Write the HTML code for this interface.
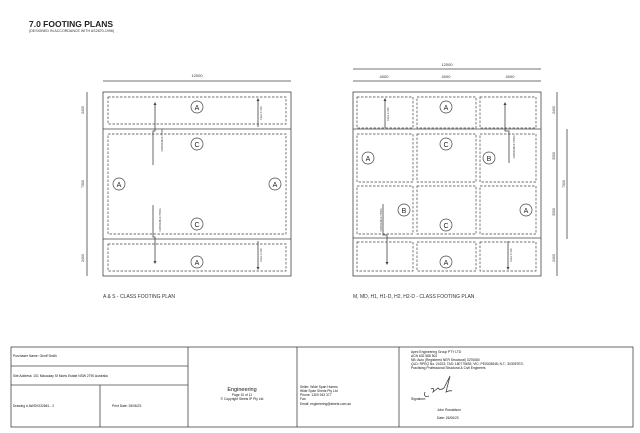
<!DOCTYPE html>
<html><head><meta charset="utf-8"><style>
body{margin:0;background:#fff;}
svg{display:block;font-family:"Liberation Sans",sans-serif;}
</style></head><body>
<svg width="640" height="433" viewBox="0 0 640 433" xmlns="http://www.w3.org/2000/svg">
<rect width="640" height="433" fill="#fff"/>
<text x="29" y="27" font-size="8.5" font-weight="bold" fill="#222">7.0 FOOTING PLANS</text>
<text x="29" y="32" font-size="3.6" fill="#333">(DESIGNED IN ACCORDANCE WITH AS2870-1996)</text>

<g stroke="#444" fill="none" stroke-width="0.8">
<!-- LEFT PLAN -->
<line x1="103" y1="81" x2="291" y2="81"/>
<line x1="87" y1="92" x2="87" y2="276"/>
<rect x="103" y="92" width="188" height="184"/>
<line x1="103" y1="129" x2="291" y2="129"/>
<line x1="103" y1="239" x2="291" y2="239"/>
<g stroke-dasharray="2.5,1.5" stroke-width="0.7">
<rect x="108" y="97" width="178" height="27"/>
<rect x="108" y="134" width="178" height="100"/>
<rect x="108" y="244" width="178" height="27"/>
</g>
<polyline points="155,104 155,131 153,131 153,165"/>
<polyline points="153,205 153,237 155,237 155,262"/>
<line x1="258" y1="100" x2="258" y2="127"/>
<line x1="258" y1="241" x2="258" y2="268"/>
<g stroke-width="0.7">
<circle cx="197" cy="107" r="6"/><circle cx="197" cy="144" r="6"/>
<circle cx="197" cy="224" r="6"/><circle cx="197" cy="262" r="6"/>
<circle cx="119" cy="184" r="6"/><circle cx="275" cy="184" r="6"/>
</g>

<!-- RIGHT PLAN -->
<line x1="353" y1="69" x2="541" y2="69"/>
<line x1="353" y1="81" x2="541" y2="81"/>
<line x1="557" y1="92" x2="557" y2="276"/>
<line x1="567" y1="129" x2="567" y2="239"/>
<rect x="353" y="92" width="188" height="184"/>
<line x1="353" y1="129" x2="541" y2="129"/>
<line x1="353" y1="238" x2="541" y2="238"/>
<g stroke-dasharray="2.5,1.5" stroke-width="0.7">
<rect x="357" y="97" width="56" height="31"/><rect x="417" y="97" width="59" height="31"/><rect x="480" y="97" width="56" height="31"/>
<rect x="357" y="134" width="56" height="48"/><rect x="417" y="134" width="59" height="48"/><rect x="480" y="134" width="56" height="48"/>
<rect x="357" y="186" width="56" height="48"/><rect x="417" y="186" width="59" height="48"/><rect x="480" y="186" width="56" height="48"/>
<rect x="357" y="242" width="56" height="29"/><rect x="417" y="242" width="59" height="29"/><rect x="480" y="242" width="56" height="29"/>
</g>
<line x1="385" y1="100" x2="385" y2="128"/>
<polyline points="505,104 505,131 509,131 509,163"/>
<polyline points="383,204 383,235 387,235 387,263"/>
<line x1="508" y1="241" x2="508" y2="268"/>
<g stroke-width="0.7">
<circle cx="446" cy="107" r="6"/><circle cx="446" cy="144" r="6"/>
<circle cx="368" cy="158" r="6"/><circle cx="489" cy="158" r="6"/>
<circle cx="404" cy="210" r="6"/><circle cx="526" cy="210" r="6"/>
<circle cx="446" cy="225" r="6"/><circle cx="446" cy="262" r="6"/>
</g>

<!-- TITLE BLOCK -->
<rect x="11" y="347" width="622" height="80"/>
<line x1="11" y1="366" x2="188" y2="366"/>
<line x1="11" y1="385" x2="188" y2="385"/>
<line x1="100" y1="385" x2="100" y2="427"/>
<line x1="188" y1="347" x2="188" y2="427"/>
<line x1="297" y1="347" x2="297" y2="427"/>
<line x1="399" y1="347" x2="399" y2="427"/>
<path d="M425 392 q-2 6 4 4 M431 389 q4 -2 2 3 l5 -4 q2 3 6 0 l6 -12 l-4 16 q4 -2 6 -1" stroke-width="0.8"/>
</g>

<!-- arrowheads -->
<g fill="#444">
<path d="M155,102 l-1.5,3 h3z"/><path d="M155,264 l-1.5,-3 h3z"/>
<path d="M258,98 l-1.5,3 h3z"/><path d="M258,270 l-1.5,-3 h3z"/>
<path d="M385,98 l-1.5,3 h3z"/><path d="M505,102 l-1.5,3 h3z"/>
<path d="M387,265 l-1.5,-3 h3z"/><path d="M508,270 l-1.5,-3 h3z"/>
</g>
<g font-size="2.6" fill="#333" text-anchor="middle">
<text transform="translate(161,140) rotate(90)">50mm STEPDOWN</text>
<text transform="translate(159,220) rotate(90)">50mm STEPDOWN</text>
<text transform="translate(513,147) rotate(90)">50mm STEPDOWN</text>
<text transform="translate(380,220) rotate(90)">50mm STEPDOWN</text>
<text transform="translate(262,113) rotate(-90)">FALL 1:100</text>
<text transform="translate(262,255) rotate(-90)">FALL 1:100</text>
<text transform="translate(389,114) rotate(-90)">FALL 1:100</text>
<text transform="translate(512,255) rotate(-90)">FALL 1:100</text>
</g>

<g font-size="4" fill="#333" text-anchor="middle">
<text x="197" y="77">12000</text>
<text x="447" y="66">12000</text>
<text x="384" y="78">4000</text><text x="446" y="78">4000</text><text x="510" y="78">4000</text>
</g>
<g font-size="3.5" fill="#333" text-anchor="middle">
<text transform="translate(84,110) rotate(-90)">2400</text>
<text transform="translate(84,184) rotate(-90)">7300</text>
<text transform="translate(84,258) rotate(-90)">2400</text>
<text transform="translate(555,110) rotate(-90)">2400</text>
<text transform="translate(555,156) rotate(-90)">3300</text>
<text transform="translate(555,212) rotate(-90)">3300</text>
<text transform="translate(555,258) rotate(-90)">2400</text>
<text transform="translate(565,184) rotate(-90)">7300</text>
</g>
<g font-size="7" fill="#222" text-anchor="middle">
<text x="197" y="110">A</text><text x="197" y="147">C</text><text x="197" y="227">C</text><text x="197" y="265">A</text>
<text x="119" y="187">A</text><text x="275" y="187">A</text>
<text x="446" y="110">A</text><text x="446" y="147">C</text><text x="368" y="161">A</text><text x="489" y="161">B</text>
<text x="404" y="213">B</text><text x="526" y="213">A</text><text x="446" y="228">C</text><text x="446" y="265">A</text>
</g>
<text x="103" y="298" font-size="5" fill="#333">A &amp; S - CLASS FOOTING PLAN</text>
<text x="353" y="298" font-size="5" fill="#333">M, MD, H1, H1-D, H2, H2-D - CLASS FOOTING PLAN</text>

<g font-size="3.3" fill="#111">
<text x="13" y="357">Purchaser Name: Geoff Smith</text>
<text x="13" y="377">Site Address: 101 Macaulay St Morts Estate NSW 2790 Australia</text>
<text x="13" y="407">Drawing # AWSH232661 - 2</text>
<text x="112" y="407">Print Date: 26/06/23</text>
<text x="300" y="388">Seller: Wide Span Homes</text>
<text x="300" y="392">Wide Span Sheds Pty Ltd</text>
<text x="300" y="396">Phone: 1300 943 377</text>
<text x="300" y="400">Fax:</text>
<text x="300" y="405">Email: engineering@steels.com.au</text>
<text x="411" y="353">Apex Engineering Group PTY LTD</text>
<text x="411" y="357">ACN 632 588 502</text>
<text x="411" y="361">NB: Auto (Registered NER Structural) 3276080</text>
<text x="411" y="365">QLD: RPEQ No. 24223; TAS: 180775692; VIC: PE0003848; N.T.: 303057ES;</text>
<text x="411" y="369">Practising Professional Structural &amp; Civil Engineers</text>
<text x="411" y="400">Signature:</text>
<text x="437" y="411">John Ronaldson</text>
<text x="437" y="419">Date: 26/06/23</text>
</g>
<g text-anchor="middle" fill="#111">
<text x="242" y="391" font-size="5.5">Engineering</text>
<text x="242" y="396" font-size="3.3">Page 10 of 11</text>
<text x="242" y="400" font-size="3.3">© Copyright Steels IP Pty Ltd</text>
</g>
</svg>
</body></html>
